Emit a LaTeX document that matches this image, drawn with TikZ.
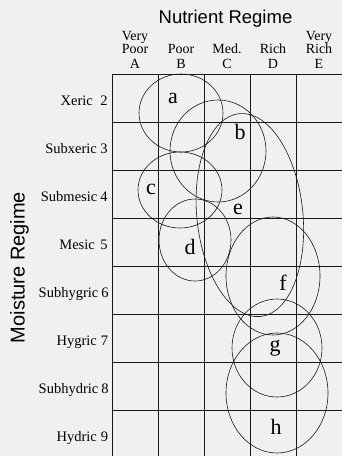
\documentclass[tikz,border=0pt]{standalone}
\usepackage{fontspec}
\setmainfont{Liberation Serif}
\newfontfamily\headsans{Liberation Sans}
\begin{document}
\begin{tikzpicture}[x=1pt,y=-1pt,
  gridline/.style={draw=black!90, line width=0.7pt},
  zone/.style={draw=black!90, line width=0.6pt},
  rowlab/.style={font=\fontsize{14.5}{14.5}\selectfont, inner sep=0pt, anchor=base east},
  rownum/.style={font=\fontsize{14.5}{14.5}\selectfont, inner sep=0pt, anchor=base},
  collab/.style={font=\fontsize{14}{12}\selectfont, inner sep=0pt, anchor=south, align=center},
  zonelab/.style={font=\fontsize{22}{22}\selectfont, inner sep=0pt},
  axistitle/.style={font=\headsans\fontsize{18.5}{18.5}\selectfont, inner sep=0pt, anchor=base}]
\definecolor{bg}{RGB}{240,240,241}
\fill[bg] (0,0) rectangle (342,456);
\useasboundingbox (0,0) rectangle (342,456);
% grid
\foreach \y in {74,122,170,218,266,314,362,410}
  \draw[gridline] (112,\y) -- (342,\y);
\foreach \x in {112,158,204,250,296}
  \draw[gridline] (\x,74) -- (\x,456);
% zones
\draw[zone] (181,113) ellipse [x radius=42pt, y radius=39pt];
\draw[zone] (218,151) ellipse [x radius=48pt, y radius=51pt];
\draw[zone] (180,190) ellipse [x radius=42pt, y radius=38pt];
\draw[zone] (195,240) ellipse [x radius=36pt, y radius=41pt];
\draw[zone] (226,240) [rotate=6] ellipse [x radius=53pt, y radius=102pt];
\draw[zone] (273,276) ellipse [x radius=47pt, y radius=59pt];
\draw[zone] (277,348) ellipse [x radius=45pt, y radius=49pt];
\draw[zone] (277,393) ellipse [x radius=51pt, y radius=60pt];
% zone labels
\node[zonelab] (la) at (173,98) {a};
\node[zonelab] (lb) at (240,132) {b};
\node[zonelab] (lc) at (151,189) {c};
\node[zonelab] (ld) at (190,247) {d};
\node[zonelab] (le) at (238,209) {e};
\node[zonelab] (lf) at (283,283) {f};
\node[zonelab] (lg) at (275,348) {g};
\node[zonelab] (lh) at (276,427) {h};
% titles
\node[axistitle] (ttop) at (225.5,23) {Nutrient Regime};
\node[axistitle, font=\headsans\fontsize{20}{20}\selectfont, rotate=90] (tleft) at (24.5,267.5) {Moisture Regime};
% column headers
\node[collab] (ca) at (135,69) {Very\\Poor\\[3pt]A};
\node[collab] (cb) at (181,69) {Poor\\[3pt]B};
\node[collab] (cc) at (227,69) {Med.\\[3pt]C};
\node[collab] (cd) at (273,69) {Rich\\[3pt]D};
\node[collab] (ce) at (319,69) {Very\\Rich\\[3pt]E};
% row headers
\node[rowlab] (r2) at (93,105.5) {Xeric};
\node[rownum] (n2) at (104,105.5) {2};
\node[rowlab] (r3) at (97,153.5) {Subxeric};
\node[rownum] (n3) at (104,153.5) {3};
\node[rowlab] (r4) at (97.5,201.5) {Submesic};
\node[rownum] (n4) at (104,201.5) {4};
\node[rowlab] (r5) at (95,249.5) {Mesic};
\node[rownum] (n5) at (104,249.5) {5};
\node[rowlab] (r6) at (98.5,297.5) {Subhygric};
\node[rownum] (n6) at (105,297.5) {6};
\node[rowlab] (r7) at (97,345.5) {Hygric};
\node[rownum] (n7) at (104.5,345.5) {7};
\node[rowlab] (r8) at (98.5,393.5) {Subhydric};
\node[rownum] (n8) at (105,393.5) {8};
\node[rowlab] (r9) at (97,441.5) {Hydric};
\node[rownum] (n9) at (104.5,441.5) {9};
\end{tikzpicture}
\end{document}
